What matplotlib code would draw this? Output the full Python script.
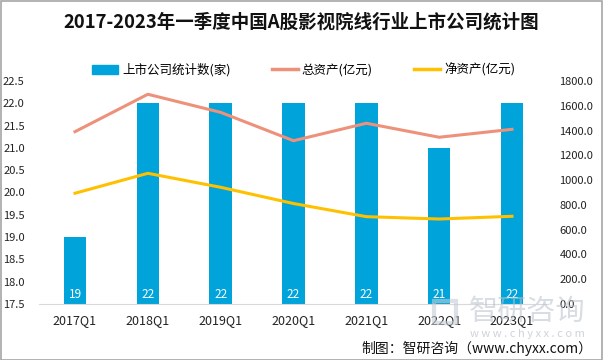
import matplotlib
matplotlib.use("Agg")
import matplotlib.pyplot as plt
from matplotlib.patches import Rectangle
from matplotlib.lines import Line2D

plt.rcParams['font.family'] = ['Noto Sans CJK SC', 'DejaVu Sans']

categories = ["2017Q1", "2018Q1", "2019Q1", "2020Q1", "2021Q1", "2022Q1", "2023Q1"]
companies = [19, 22, 22, 22, 22, 21, 22]
total_assets = [1391, 1693, 1547, 1318, 1459, 1346, 1410]
net_assets = [894, 1055, 942, 811, 705, 686, 708]
left_ticks = [17.5, 18.0, 18.5, 19.0, 19.5, 20.0, 20.5, 21.0, 21.5, 22.0, 22.5]
right_ticks = [0, 200, 400, 600, 800, 1000, 1200, 1400, 1600, 1800]

bar_color = "#00A3DA"
total_color = "#EE917A"
net_color = "#FFC000"

fig = plt.figure(figsize=(6.03, 3.60), dpi=100)
W, H = 603, 360
ax = fig.add_axes([38.6 / W, 1 - 304 / H, (548.4 - 38.6) / W, (304 - 81) / H])
ax2 = ax.twinx()

x = list(range(len(categories)))
ax.bar(x, [c - 17.5 for c in companies], bottom=17.5, width=0.31, color=bar_color, zorder=2)
ax.set_ylim(17.5, 22.5)
ax.set_xlim(-0.5, len(categories) - 0.5)
ax.set_yticks(left_ticks)
ax.set_yticklabels([f"{t:.1f}" for t in left_ticks], fontsize=8, color="#222222")
ax.set_xticks(x)
ax.set_xticklabels(categories, fontsize=9, color="#222222")
ax.tick_params(axis='both', length=0)
ax.tick_params(axis='y', pad=10)
ax.tick_params(axis='x', pad=7)
for s in ["top", "right", "left"]:
    ax.spines[s].set_visible(False)
ax.spines["bottom"].set_color("#D9D9D9")

for xi, c in zip(x, companies):
    ax.text(xi, 17.72, str(c), ha="center", va="center", color="white", fontsize=8.5, zorder=5)

ax2.plot(x, total_assets, color=total_color, lw=2.2, zorder=3)
ax2.plot(x, net_assets, color=net_color, lw=2.2, zorder=3)
ax2.set_ylim(0, 1800)
ax2.set_yticks(right_ticks)
ax2.set_yticklabels([f"{t:.1f}" for t in right_ticks], fontsize=8, color="#222222")
ax2.tick_params(axis='y', length=0, pad=8)
for s in ["top", "right", "left", "bottom"]:
    ax2.spines[s].set_visible(False)

fig.text(0.5, 1 - 22 / H, "2017-2023年一季度中国A股影视院线行业上市公司统计图",
         ha="center", va="center", fontsize=13.3, fontweight="bold", color="#111111")

handles = [Rectangle((0, 0), 1, 1, color=bar_color),
           Line2D([0], [0], color=total_color, lw=2.5),
           Line2D([0], [0], color=net_color, lw=2.5)]
labels = ["上市公司统计数(家)", "总资产(亿元)", "净资产(亿元)"]
fig.legend(handles, labels, loc="center", bbox_to_anchor=(303.5 / W, 1 - 70 / H), ncol=3,
           frameon=False, fontsize=9, handlelength=2.1, columnspacing=3.3, handletextpad=0.3)

# watermark
fig.patches.append(Rectangle((434 / W, 1 - 323 / H), 22 / W, 22 / H, transform=fig.transFigure,
                             fill=False, edgecolor="#C5CDD6", lw=3, alpha=0.6))
fig.text(585 / W, 1 - 312 / H, "智研咨询", ha="right", va="center", fontsize=21,
         color="#B8C2CC", alpha=0.55, zorder=0)
fig.text(527 / W, 1 - 334 / H, "w w w . c h y x x . c o m", ha="center", va="center", fontsize=8,
         color="#B8C2CC", alpha=0.7)
fig.text(592 / W, 1 - 348 / H, "制图：智研咨询（www.chyxx.com）", ha="right", va="center",
         fontsize=10, color="#111111")

fig.patches.append(Rectangle((0.5 / W, 0.5 / H), 1 - 1.5 / W, 1 - 1.5 / H, transform=fig.transFigure,
                             fill=False, edgecolor="#A6A6A6", lw=1.2))

fig.savefig("out.png", dpi=100)
